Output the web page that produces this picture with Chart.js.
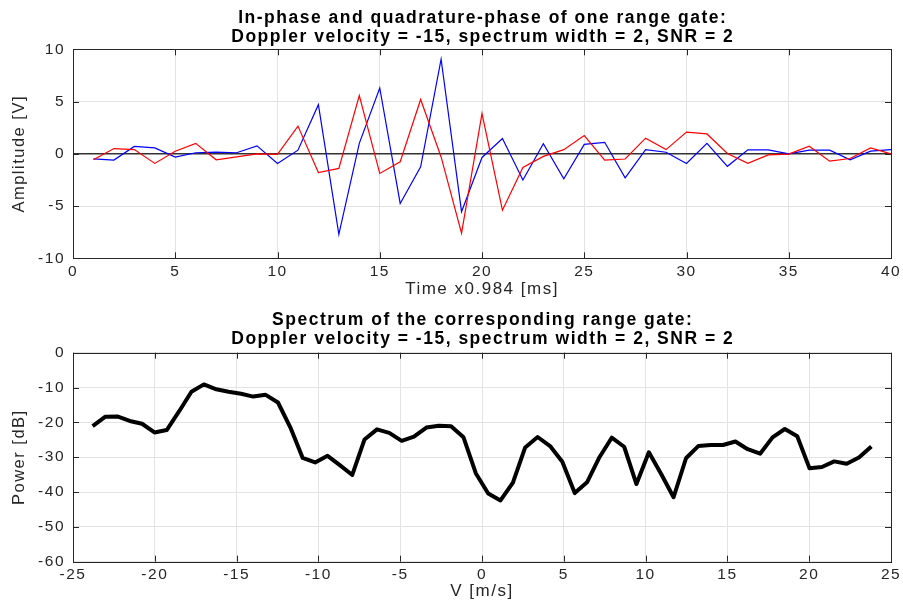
<!DOCTYPE html>
<html>
<head>
<meta charset="utf-8">
<script src="https://cdn.jsdelivr.net/npm/chart.js@4"></script>
<style>
  body { margin: 0; background: #fff; }
  .wrap { position: absolute; left: 0; width: 903px; height: 301px; }
</style>
</head>
<body>
<div class="wrap" style="top:0"><canvas id="iqChart"></canvas></div>
<div class="wrap" style="top:301px"><canvas id="specChart"></canvas></div>
<script>
// time samples (x0.984 ms)
const timeIdx = [1,2,3,4,5,6,7,8,9,10,11,12,13,14,15,16,17,18,19,20,21,22,23,24,25,26,27,28,29,30,31,32,33,34,35,36,37,38,39,40];
// blue trace
const blueVals = [-0.48,-0.6,0.7,0.57,-0.32,0.1,0.16,0.1,0.76,-0.92,0.35,4.7,-7.7,1.0,6.3,-4.75,-1.25,9.05,-5.54,-0.35,1.46,-2.5,0.96,-2.4,0.9,1.1,-2.3,0.4,0.15,-0.92,1.0,-1.2,0.38,0.38,0,0.35,0.35,-0.57,0.25,0.4];
// red trace
const redVals = [-0.57,0.5,0.4,-0.92,0.25,1.0,-0.57,-0.3,0,-0.05,2.65,-1.8,-1.4,5.57,-1.88,-0.76,5.2,-0.3,-7.6,3.85,-5.4,-1.3,-0.25,0.4,1.75,-0.6,-0.5,1.5,0.4,2.07,1.9,0.03,-0.92,-0.1,-0.03,0.73,-0.7,-0.45,0.57,0];

// Doppler velocity bins [m/s]
const velocity = [-23.80,-23.04,-22.29,-21.53,-20.78,-20.02,-19.27,-18.51,-17.76,-17.00,-16.24,-15.49,-14.73,-13.98,-13.22,-12.47,-11.71,-10.96,-10.20,-9.44,-8.69,-7.93,-7.18,-6.42,-5.67,-4.91,-4.16,-3.40,-2.64,-1.89,-1.13,-0.38,0.38,1.13,1.89,2.64,3.40,4.16,4.91,5.67,6.42,7.18,7.93,8.69,9.44,10.20,10.96,11.71,12.47,13.22,13.98,14.73,15.49,16.24,17.00,17.76,18.51,19.27,20.02,20.78,21.53,22.29,23.04,23.80];
// spectral power [dB]
const powerDb = [-21.05,-18.4,-18.3,-19.6,-20.4,-22.9,-22.2,-16.8,-11.2,-9.1,-10.5,-11.2,-11.8,-12.6,-12.1,-14.3,-21.5,-30.2,-31.5,-29.6,-32.3,-35.1,-24.9,-22.0,-23.0,-25.3,-24.1,-21.5,-21.0,-21.1,-24.3,-34.6,-40.4,-42.4,-37.3,-27.2,-24.2,-26.8,-31.3,-40.3,-37.2,-30.0,-24.4,-27.0,-37.7,-28.6,-34.9,-41.5,-30.3,-26.8,-26.5,-26.5,-25.5,-27.7,-29.0,-24.3,-21.9,-24.0,-33.2,-32.8,-31.2,-31.9,-30.1,-26.9];

const FONT = "'Liberation Sans', Arial, Helvetica, sans-serif";
const AX = '#262626';
const GRID = '#e3e3e3';
const SPACING = '1.5px';

// the original text looks stretched sideways, so space the letters a bit
const spacingPlugin = {
  id: 'spacing',
  beforeLayout(chart) { chart.ctx.letterSpacing = SPACING; },
  beforeDraw(chart) { chart.ctx.letterSpacing = SPACING; }
};

// box around the axes + inward ticks like matlab
const framePlugin = {
  id: 'frame',
  beforeDatasetsDraw(chart) {
    const { ctx, chartArea: a, scales: { x, y } } = chart;
    ctx.save();
    ctx.strokeStyle = AX;
    ctx.lineWidth = 1;
    ctx.beginPath();
    x.ticks.forEach(t => {
      const px = Math.round(x.getPixelForValue(t.value)) + 0.5;
      ctx.moveTo(px, a.bottom); ctx.lineTo(px, a.bottom - 6);
      ctx.moveTo(px, a.top); ctx.lineTo(px, a.top + 6);
    });
    y.ticks.forEach(t => {
      const py = Math.round(y.getPixelForValue(t.value)) + 0.5;
      ctx.moveTo(a.left, py); ctx.lineTo(a.left + 6, py);
      ctx.moveTo(a.right, py); ctx.lineTo(a.right - 6, py);
    });
    ctx.stroke();
    ctx.strokeRect(Math.round(a.left) + 0.5, Math.round(a.top) + 0.5, Math.round(a.width), Math.round(a.height));
    ctx.restore();
  }
};

// title centred over the plot box (matlab style), not over the canvas
const boxTitlePlugin = {
  id: 'boxTitle',
  afterDraw(chart, args, opts) {
    const { ctx, chartArea: a } = chart;
    ctx.save();
    ctx.letterSpacing = SPACING;
    ctx.font = `bold 17.5px ${FONT}`;
    ctx.fillStyle = '#000';
    ctx.textAlign = 'center';
    ctx.textBaseline = 'middle';
    const cx = (a.left + a.right) / 2 + 0.75;
    opts.lines.forEach((line, i) => ctx.fillText(line, cx, opts.y[i]));
    ctx.restore();
  }
};

function makeOptions(cfg) {
  return {
    responsive: false,
    animation: false,
    layout: { padding: { left: 0, right: 12, top: cfg.top, bottom: 0 } },
    plugins: {
      legend: { display: false },
      tooltip: { enabled: false },
      title: { display: false },
      boxTitle: { lines: cfg.title, y: cfg.titleY }
    },
    scales: {
      x: {
        type: 'linear',
        min: cfg.xMin, max: cfg.xMax,
        ticks: { stepSize: cfg.xStep, color: AX, font: { family: FONT, size: 15.5 }, padding: 4, maxRotation: 0 },
        grid: { color: GRID, drawTicks: false },
        border: { display: false },
        title: { display: true, text: cfg.xLabel, color: AX, font: { family: FONT, size: 17 }, padding: { top: 0, bottom: cfg.xTitleBottom } },
        afterFit: s => { s.height = cfg.xHeight; s.paddingLeft = 0; s.paddingRight = 0; }
      },
      y: {
        min: cfg.yMin, max: cfg.yMax,
        ticks: { stepSize: cfg.yStep, color: AX, font: { family: FONT, size: 15.5 }, padding: 8 },
        grid: {
          color: ctx => (cfg.zeroLine && ctx.tick && ctx.tick.value === 0) ? '#333' : GRID,
          lineWidth: ctx => (cfg.zeroLine && ctx.tick && ctx.tick.value === 0) ? 1.6 : 1,
          drawTicks: false
        },
        border: { display: false },
        title: { display: true, text: cfg.yLabel, color: AX, font: { family: FONT, size: 16.5 }, padding: { top: 10, bottom: 0 } },
        afterFit: s => { s.width = 73; s.paddingTop = 0; s.paddingBottom = 0; }
      }
    }
  };
}

function setSize(id) {
  const c = document.getElementById(id);
  c.width = 903; c.height = 301;
  c.style.width = '903px'; c.style.height = '301px';
  return c.getContext('2d');
}

new Chart(setSize('iqChart'), {
  type: 'line',
  data: {
    datasets: [
      { data: timeIdx.map((t, i) => ({ x: t, y: redVals[i] })), borderColor: '#ff0000', borderWidth: 1.2, pointRadius: 0, tension: 0 },
      { data: timeIdx.map((t, i) => ({ x: t, y: blueVals[i] })), borderColor: '#0000ff', borderWidth: 1.2, pointRadius: 0, tension: 0 }
    ]
  },
  options: makeOptions({
    title: ['In-phase and quadrature-phase of one range gate:', 'Doppler velocity = -15, spectrum width = 2, SNR = 2'],
    titleY: [18, 37], top: 49.3,
    xMin: 0, xMax: 40, xStep: 5, xLabel: 'Time x0.984 [ms]', xHeight: 42.7, xTitleBottom: 1.5,
    yMin: -10, yMax: 10, yStep: 5, yLabel: 'Amplitude [V]', zeroLine: true
  }),
  plugins: [spacingPlugin, framePlugin, boxTitlePlugin]
});

new Chart(setSize('specChart'), {
  type: 'line',
  data: {
    datasets: [
      { data: velocity.map((v, i) => ({ x: v, y: powerDb[i] })), borderColor: '#000', borderWidth: 4, pointRadius: 0, tension: 0, borderJoinStyle: 'round' }
    ]
  },
  options: makeOptions({
    title: ['Spectrum of the corresponding range gate:', 'Doppler velocity = -15, spectrum width = 2, SNR = 2'],
    titleY: [19.5, 38.5], top: 51.7,
    xMin: -25, xMax: 25, xStep: 5, xLabel: 'V [m/s]', xHeight: 40.3, xTitleBottom: 0.5,
    yMin: -60, yMax: 0, yStep: 10, yLabel: 'Power [dB]', zeroLine: false
  }),
  plugins: [spacingPlugin, framePlugin, boxTitlePlugin]
});
</script>
</body>
</html>
